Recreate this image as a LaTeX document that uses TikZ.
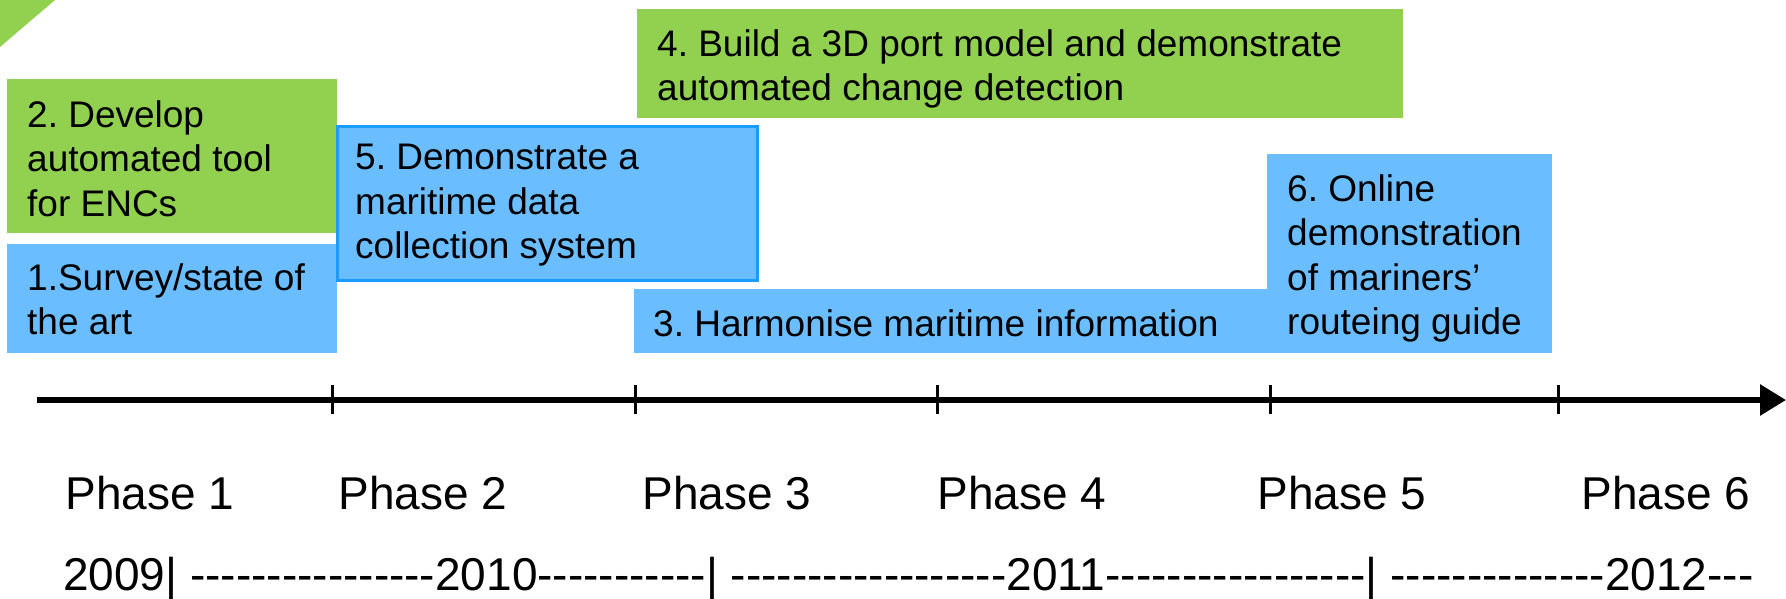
\documentclass[tikz,border=0pt]{standalone}
\usepackage{fontspec}
\setmainfont{Liberation Sans}
\newfontfamily\plainfont{Liberation Sans}[Ligatures=TeXOff]
\usetikzlibrary{arrows.meta,calc}
\definecolor{grn}{HTML}{92D050}
\definecolor{blu}{HTML}{6ABEFF}
\definecolor{bord}{HTML}{1A9BFF}
\frenchspacing
\begin{document}
\frenchspacing
\begin{tikzpicture}[x=1pt,y=-1pt,
  gbox/.style={fill=grn,draw=none,inner sep=0pt,anchor=north west},
  bbox/.style={fill=blu,draw=none,inner sep=0pt,anchor=north west},
  txt/.style={inner sep=0pt,anchor=north west,align=left,font=\fontsize{37}{44.5}\selectfont\frenchspacing},
  ph/.style={inner sep=0pt,anchor=base,font=\fontsize{46}{50}\selectfont},
  tick/.style={line width=3pt},
  axis/.style={line width=6pt,-{Triangle[length=26pt,width=30pt]}}]
\useasboundingbox (0,0) rectangle (1786,598);
% corner triangle
\fill[grn] (0,0) -- (55,0) -- (0,47) -- cycle;
% boxes
\node[gbox,minimum width=330pt,minimum height=154pt] (b2) at (7,79) {};
\node[bbox,minimum width=330pt,minimum height=109pt] (b1) at (7,244) {};
\node[gbox,minimum width=766pt,minimum height=109pt] (b4) at (637,9) {};
\node[bbox,minimum width=633pt,minimum height=64pt] (b3) at (634,289) {};
\node[bbox,minimum width=285pt,minimum height=199pt] (b6) at (1267,154) {};
\node[bbox,draw=bord,line width=2.5pt,minimum width=420pt,minimum height=154pt] (b5) at (336,125) {};
% texts
\node[txt] (t2) at ([xshift=20pt,yshift=-21pt]b2.north west) {2. Develop\\automated tool\\for ENCs};
\node[txt] (t1) at ([xshift=20pt,yshift=-19pt]b1.north west) {1.Survey/state of\\the art};
\node[txt] (t4) at ([xshift=20pt,yshift=-20pt]b4.north west) {4. Build a 3D port model and demonstrate\\automated change detection};
\node[txt] (t5) at ([xshift=19pt,yshift=-19pt]b5.north west) {5. Demonstrate a\\maritime data\\collection system};
\node[txt] (t3) at ([xshift=19pt,yshift=-20pt]b3.north west) {3. Harmonise maritime information};
\node[txt] (t6) at ([xshift=20pt,yshift=-20pt]b6.north west) {6. Online\\demonstration\\of mariners’\\routeing guide};
% axis
\coordinate (a0) at (37,400);
\coordinate (a1) at (1786,400);
\draw[axis] (a0) -- (a1);
\foreach \n/\x in {k1/332,k2/635,k3/937,k4/1270,k5/1558}{
  \coordinate (\n t) at (\x,385);
  \coordinate (\n b) at (\x,414);
  \draw[tick] (\n t) -- (\n b);
}
% phases
\node[ph] (p1) at (150,509) {Phase 1};
\node[ph] (p2) at (423,509) {Phase 2};
\node[ph] (p3) at (727,509) {Phase 3};
\node[ph] (p4) at (1022,509) {Phase 4};
\node[ph] (p5) at (1342,509) {Phase 5};
\node[ph] (p6) at (1666,509) {Phase 6};
\node[inner sep=0pt,anchor=base west,font=\plainfont\fontsize{46}{50}\selectfont] (yr) at (63,590)
  {2009| ----------------2010-----------| ------------------2011-----------------| --------------2012---};
\end{tikzpicture}
\end{document}
